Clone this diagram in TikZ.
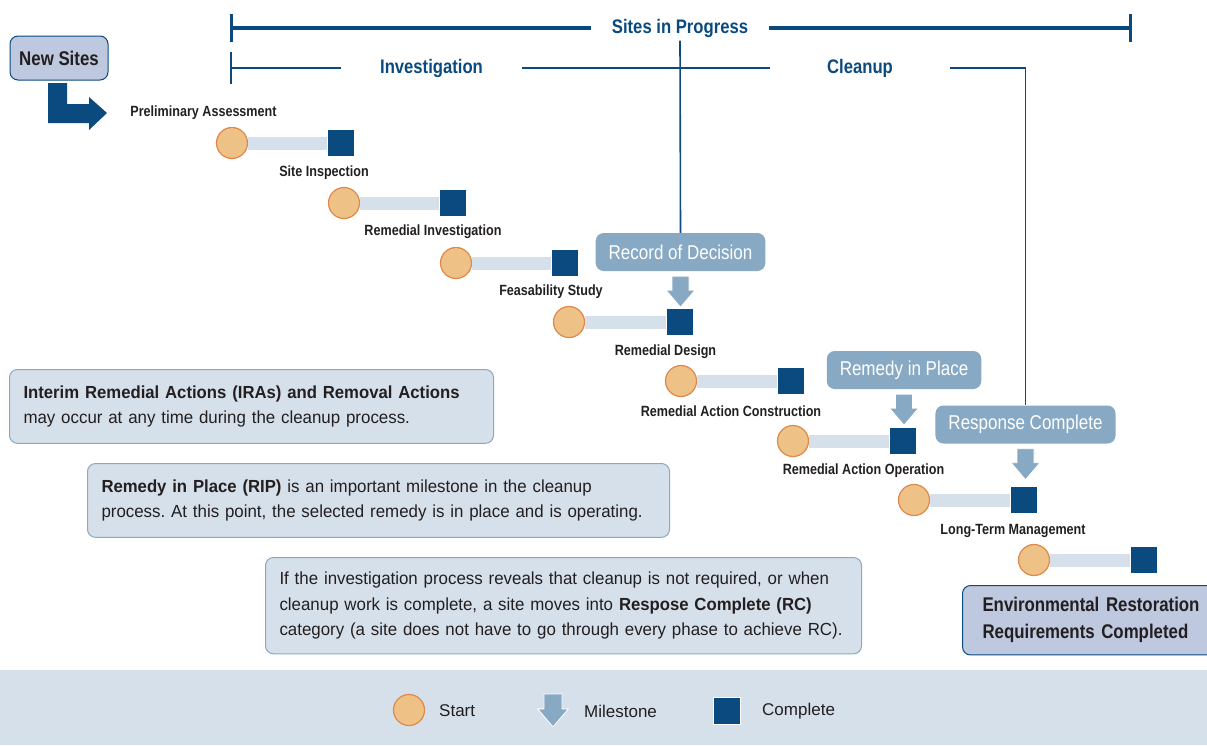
\documentclass[tikz,border=0pt]{standalone}
\usepackage{fontspec}
\setmainfont{Liberation Sans}
\newfontfamily\narrowfont{Liberation Sans}[FakeStretch=0.85]
\newfontfamily\notefont{Liberation Sans}[FakeStretch=0.965,BoldFeatures={FakeStretch=0.955}]
\usetikzlibrary{calc}
\definecolor{navy}{HTML}{0A4A7F}
\definecolor{pale}{HTML}{D6E0EA}
\definecolor{lavender}{HTML}{BEC8DE}
\definecolor{msblue}{HTML}{87A9C4}
\definecolor{startfill}{HTML}{EEC187}
\definecolor{startedge}{HTML}{E0884A}
\definecolor{ink}{HTML}{231F20}

\tikzset{
  pics/msarrow/.style={code={
    \fill[msblue,draw=white,line width=0.8pt] (-8.5,0) -- (8.5,0) -- (8.5,14) -- (14.5,14) -- (0,31) -- (-14.5,14) -- (-8.5,14) -- cycle;}}
}

\begin{document}
\begin{tikzpicture}[x=1pt,y=-1pt,
    start/.style={circle,draw=startedge,fill=startfill,line width=1.2pt,minimum size=31pt,inner sep=0pt},
    done/.style={rectangle,draw=white,fill=navy,line width=0.8pt,minimum size=27pt,inner sep=0pt},
    bar/.style={draw=pale,line width=13pt},
    phase/.style={font=\narrowfont\bfseries\fontsize{14.8}{17}\selectfont,text=ink,inner sep=0pt},
    heading/.style={font=\narrowfont\bfseries\fontsize{19.6}{23}\selectfont,text=navy},
    spanline/.style={draw=navy,line width=4pt},
    phaseline/.style={draw=navy,line width=1.6pt},
    msbox/.style={fill=msblue,rounded corners=8pt,text=white,font=\narrowfont\fontsize{20}{24}\selectfont,minimum height=38pt,inner xsep=13pt},
    infobox/.style={draw=msblue,fill=pale,rounded corners=8pt,line width=1pt,align=left,anchor=north west,inner xsep=14pt,inner ysep=16pt,text=ink,font=\notefont\frenchspacing\fontsize{17.5}{25.5}\selectfont},
    endbox/.style={draw=navy,fill=lavender,rounded corners=8pt,line width=1pt,text=ink,font=\narrowfont\bfseries\fontsize{19.8}{27}\selectfont},
    keytext/.style={anchor=west,text=ink,font=\fontsize{17}{20}\selectfont,inner sep=0pt}]
  \useasboundingbox (0,0) rectangle (1207,745);

  % spans
  \coordinate (spL) at (231,28);
  \coordinate (spR) at (1130,28);
  \coordinate (phL) at (231,68);
  \node[heading,inner xsep=21pt] (sip) at (680,28) {Sites in Progress};
  \node[heading,inner xsep=39pt] (inv) at (431.5,68) {Investigation};
  \node[heading,inner xsep=57pt] (cln) at (860,68) {Cleanup};
  \draw[spanline] (spL) -- (sip.west) (sip.east) -- (spR);
  \draw[spanline,line width=3pt] ([yshift=14pt]spL) -- ([yshift=-14pt]spL);
  \draw[spanline,line width=3pt] ([yshift=14pt]spR) -- ([yshift=-14pt]spR);
  \draw[phaseline] (phL) -- (inv.west) (inv.east) -- (cln.west);
  \draw[phaseline] ([yshift=16pt]phL) -- ([yshift=-16pt]phL);

  % new sites
  \node[endbox,minimum width=98pt,minimum height=44pt,inner sep=0pt] (ns) at (59,58) {New Sites};
  \fill[navy] (48,83) -- (67,83) -- (67,104) -- (89,104) -- (89,97) -- (107,113) -- (89,130) -- (89,123) -- (48,123) -- cycle;

  % phases
  \node[phase] (l1) at (203.5,113) {Preliminary Assessment};
  \node[start] (c1) at (232,143) {};
  \node[done] (s1) at (341,143) {};
  \node[phase] (l2) at (324,173) {Site Inspection};
  \node[start] (c2) at (344,203) {};
  \node[done] (s2) at (453,203) {};
  \node[phase] (l3) at (433,232) {Remedial Investigation};
  \node[start] (c3) at (456,263) {};
  \node[done] (s3) at (565,263) {};
  \node[phase] (l4) at (551,292) {Feasability Study};
  \node[start] (c4) at (569,322) {};
  \node[done] (s4) at (679.5,322) {};
  \node[phase] (l5) at (665.5,352) {Remedial Design};
  \node[start] (c5) at (681,381) {};
  \node[done] (s5) at (791,381) {};
  \node[phase] (l6) at (731,411) {Remedial Action Construction};
  \node[start] (c6) at (793,441) {};
  \node[done] (s6) at (903,441) {};
  \node[phase] (l7) at (863.5,471) {Remedial Action Operation};
  \node[start] (c7) at (914,500) {};
  \node[done] (s7) at (1024,500) {};
  \node[phase] (l8) at (1013,531) {Long-Term Management};
  \node[start] (c8) at (1034,560) {};
  \node[done] (s8) at (1144,560) {};
  \draw[bar] (c1.east) -- (s1.west);
  \draw[bar] (c2.east) -- (s2.west);
  \draw[bar] (c3.east) -- (s3.west);
  \draw[bar] (c4.east) -- (s4.west);
  \draw[bar] (c5.east) -- (s5.west);
  \draw[bar] (c6.east) -- (s6.west);
  \draw[bar] (c7.east) -- (s7.west);
  \draw[bar] (c8.east) -- (s8.west);

  % milestones
  \node[msbox] (rod) at (680.5,252) {Record of Decision};
  \node[msbox] (rip) at (904,370) {Remedy in Place};
  \node[msbox] (rc) at (1025.5,424.5) {Response Complete};
  \pic at ([yshift=-5pt]rod.south) {msarrow};
  \pic at ([yshift=-5pt]rip.south) {msarrow};
  \pic at ([yshift=-5pt]rc.south) {msarrow};
  \draw[phaseline] (sip.south) -- (rod.north);
  \draw[phaseline] (cln.east) -| (rc.north);

  % notes
  \node[infobox,text width=456pt] (ira) at (9,369) {\textbf{Interim Remedial Actions (IRAs) and Removal Actions}\\may occur at any time during the cleanup process.};
  \node[infobox,text width=554pt] (ripnote) at (87,463) {\textbf{Remedy in Place (RIP)} is an important milestone in the cleanup\\process. At this point, the selected remedy is in place and is operating.};
  \node[infobox,text width=568pt,inner ysep=14.5pt] (rcnote) at (265,557) {\mbox{If the investigation process reveals that cleanup is not required, or when}\\\mbox{cleanup work is complete, a site moves into \textbf{Respose Complete (RC)}}\\\mbox{category (a site does not have to go through every phase to achieve RC).}};
  \node[endbox,anchor=north west,align=left,text width=230pt,inner xsep=20pt,inner ysep=12pt] (err) at (962,585) {Environmental Restoration\\Requirements Completed};

  % key
  \fill[pale] (0,670) rectangle (1207,745);
  \node[start] (kc) at (409,710) {};
  \node[keytext] (kct) at (439,711) {Start};
  \pic[scale=1.06] at (553,694) {msarrow};
  \node[keytext] (kmt) at (584,711) {Milestone};
  \node[done] (kd) at (727,710.5) {};
  \node[keytext] (kdt) at (762,711) {Complete};
\end{tikzpicture}
\end{document}
